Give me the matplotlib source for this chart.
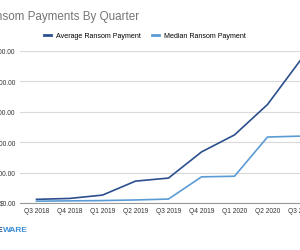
import matplotlib
matplotlib.use("Agg")
import matplotlib.pyplot as plt
from matplotlib.lines import Line2D
from matplotlib.ticker import FuncFormatter

quarters = ["Q3 2018", "Q4 2018", "Q1 2019", "Q2 2019", "Q3 2019",
            "Q4 2019", "Q1 2020", "Q2 2020", "Q3 2020"]
avg_payment = [6000, 7500, 13000, 36000, 41000, 84000, 112000, 162000, 235000]
median_payment = [3000, 3500, 4000, 5000, 6500, 43000, 44000, 108500, 110000]
y_ticks = [0, 50000, 100000, 150000, 200000, 250000]

avg_color = "#2b4f8e"
med_color = "#5b9bd5"

plt.rcParams["font.family"] = ["Liberation Sans", "DejaVu Sans"]

fig = plt.figure(figsize=(3, 2.5), dpi=100)
# axes run off the right edge, like the cropped original
ax = fig.add_axes([20 / 300, 47 / 250, 297 / 300, 152 / 250])

x = range(len(quarters))
ax.plot(x, avg_payment, color=avg_color, lw=1.2)
ax.plot(x, median_payment, color=med_color, lw=1.2)

ax.set_xlim(-0.5, len(quarters) - 0.5)
ax.set_ylim(0, 250000)
ax.set_xticks(list(x))
ax.set_xticklabels(quarters)
ax.set_yticks(y_ticks)
ax.yaxis.set_major_formatter(FuncFormatter(lambda v, p: f"${v:,.2f}"))
ax.tick_params(axis="both", length=0, labelsize=4.8, colors="#333333")
ax.tick_params(axis="x", pad=3.5)
ax.tick_params(axis="y", pad=3)
ax.grid(axis="y", color="#d9d9d9", lw=0.8)
ax.set_axisbelow(True)
for side in ["top", "left", "right"]:
    ax.spines[side].set_visible(False)
ax.spines["bottom"].set_color("#999999")
ax.spines["bottom"].set_linewidth(0.8)

# title, cropped on the left
fig.text(139 / 300, 1 - 17 / 250, "Ransom Payments By Quarter", ha="right",
         va="center", fontsize=8.4, color="#757575")

handles = [Line2D([], [], color=avg_color, lw=2),
           Line2D([], [], color=med_color, lw=2)]
fig.legend(handles, ["Average Ransom Payment", "Median Ransom Payment"],
           loc="center left", bbox_to_anchor=(44 / 300, 1 - 36 / 250),
           ncol=2, frameon=False, fontsize=5.1, handlelength=1.0,
           handletextpad=0.7, columnspacing=1.6, borderpad=0,
           borderaxespad=0)

# logo, cropped on the left
ware = fig.text(28 / 300, 1 - 230 / 250, "WARE", ha="right", va="center",
                fontsize=6, fontweight="bold", color="#3d8fd6")
ax.annotate("COVE", xy=(0, 0.5), xycoords=ware, ha="right", va="center",
            fontsize=6, fontweight="bold", color="#1f3b73",
            annotation_clip=False)

fig.savefig("out.png", dpi=100)
